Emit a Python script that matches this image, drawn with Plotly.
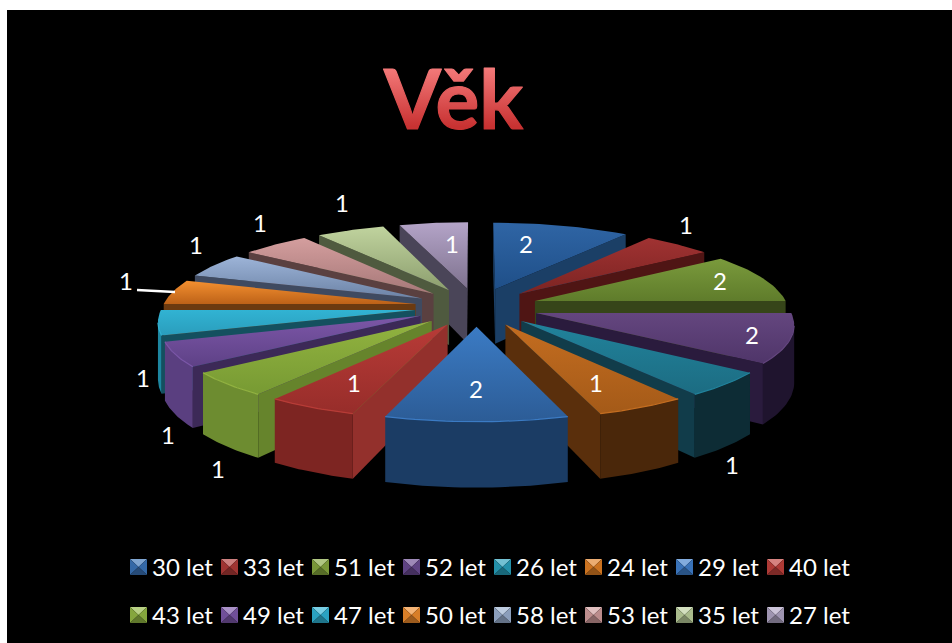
import math
import plotly.graph_objects as go

CATEGORIES = ["30 let","33 let","51 let","52 let","26 let","24 let","29 let","40 let",
              "43 let","49 let","47 let","50 let","58 let","53 let","35 let","27 let"]
VALUES = [2,1,2,2,1,1,2,1,1,1,1,1,1,1,1,1]
TOP_LIGHT = ["#2f65a5","#a03232","#7a9a3c","#64467f","#21839c","#c46d20","#3b7bc4","#b83b37",
             "#92b340","#7c57a8","#31b3d3","#f49030","#9db4d8","#d49e9e","#c0d39e","#b4a4c8"]
TOP_DARK = ["#1f4f88","#7c2422","#5f7c2b","#4f3569","#1c6c82","#a45a18","#2c5c96","#972d2a",
            "#779a33","#5e4186","#2a9dbc","#bd6218","#6c83a6","#a67878","#8c9e6e","#7e728e"]
WALL = ["#1b3f66","#4f1514","#364519","#2a1b3d","#113c4a","#5a2f0c","#1d3e67","#93302c",
        "#66842c","#3c2957","#14505f","#6b3a10","#3f4a60","#5a4040","#4f5a3f","#4a4558"]
ARC = ["#1b3a60","#4a1312","#2f3c16","#1f142e","#0d2c35","#4a270a","#1b3c64","#7d2522",
       "#6d8c30","#5a3f80","#1d86a0","#8a4a12","#4d5c78","#7a5a5a","#66754f","#5a5068"]
SWATCH = ["#3a74b8","#b03a38","#86a83e","#6a4a92","#27a0bc","#e07f24","#3f7fcc","#c0403c",
          "#94b844","#7c58aa","#2fb4d6","#f08c2c","#9ab0d0","#d09c9c","#bcd09c","#b0a4c4"]
VALUE_LABEL_X = [526,686,720,752,732,596,476,354,218,168,143,126,196,260,342,452]
VALUE_LABEL_Y = [247,228,284,338,468,386,392,386,472,438,381,284,248,226,206,247]

CX, CY, R0 = 476.5, 307, 253
TILT, PERSP, EXPLODE, DEPTH = 0.31, 0.12, 0.245, 56
VIEW_Y = -1 / PERSP


def project(x, y):
    s = 1 / (1 + PERSP * y)
    return CX + R0 * x * s, CY - R0 * TILT * y * s, DEPTH * s


def poly(points, **kw):
    xs = [p[0] for p in points] + [points[0][0]]
    ys = [p[1] for p in points] + [points[0][1]]
    return go.Scatter(x=xs, y=ys, mode="lines", fill="toself", line=dict(width=0),
                      hoverinfo="skip", showlegend=False, **kw)


def wall(a, b):
    return [(a[0], a[1]), (b[0], b[1]), (b[0], b[1] + b[2]), (a[0], a[1] + a[2])]


total = sum(VALUES)
slices = []
cum = 0
for i, v in enumerate(VALUES):
    a0 = cum / total * 2 * math.pi
    cum += v
    slices.append((i, a0, cum / total * 2 * math.pi))

fig = go.Figure()

for i, a0, a1 in sorted(slices, key=lambda s: -math.cos((s[1] + s[2]) / 2)):
    mid = (a0 + a1) / 2
    ox, oy = EXPLODE * math.sin(mid), EXPLODE * math.cos(mid)
    n = 24
    angs = [a0 + (a1 - a0) * k / n for k in range(n + 1)]
    arc3 = [(ox + math.sin(a), oy + math.cos(a)) for a in angs]
    apex = project(ox, oy)
    arc = [project(*p) for p in arc3]
    top = [(apex[0], apex[1])] + [(p[0], p[1]) for p in arc]
    vx, vy = -ox, VIEW_Y - oy
    if -math.cos(a0) * vx + math.sin(a0) * vy > 0:
        fig.add_trace(poly(wall(apex, arc[0]), fillcolor=WALL[i], name=CATEGORIES[i]))
    if math.cos(a1) * vx - math.sin(a1) * vy > 0:
        fig.add_trace(poly(wall(apex, arc[-1]), fillcolor=WALL[i], name=CATEGORIES[i]))
    vis = [p for p, a, w in zip(arc, angs, arc3)
           if math.sin(a) * (0 - w[0]) + math.cos(a) * (VIEW_Y - w[1]) > 0]
    if len(vis) > 1:
        fig.add_trace(poly([(p[0], p[1]) for p in vis] +
                           [(p[0], p[1] + p[2]) for p in reversed(vis)],
                           fillcolor=ARC[i], name=CATEGORIES[i]))
    fig.add_trace(poly(top, name=CATEGORIES[i], fillgradient=dict(
        type="vertical",
        colorscale=[[0, TOP_DARK[i]], [1, TOP_LIGHT[i]]])))
    if len(vis) > 1:
        fig.add_trace(go.Scatter(x=[p[0] for p in vis], y=[p[1] for p in vis], mode="lines",
                                 line=dict(color=TOP_LIGHT[i], width=1.2),
                                 hoverinfo="skip", showlegend=False))

fig.add_trace(go.Scatter(x=[137, 175], y=[290, 292], mode="lines",
                         line=dict(color="white", width=2.5), hoverinfo="skip", showlegend=False))
fig.add_trace(go.Scatter(x=VALUE_LABEL_X, y=VALUE_LABEL_Y, mode="text",
                         text=[str(v) for v in VALUES],
                         textfont=dict(family="Lato", size=24, color="white"),
                         hoverinfo="skip", showlegend=False))


def shade(hex_col, f):
    r, g, b = [int(hex_col[j:j + 2], 16) for j in (1, 3, 5)]
    if f >= 0:
        r, g, b = [c + (255 - c) * f for c in (r, g, b)]
    else:
        r, g, b = [c * (1 + f) for c in (r, g, b)]
    return f"rgb({r:.0f},{g:.0f},{b:.0f})"


shapes = [dict(type="rect", x0=7, x1=952, y0=10, y1=643, xref="x", yref="y",
               fillcolor="black", line_width=0, layer="below")]
annotations = [dict(text="<b>Věk</b>", x=453, y=97, xref="x", yref="y", showarrow=False,
                    font=dict(family="Lato", size=82, color="#e04848"))]
for k, cat in enumerate(CATEGORIES):
    col, row = k % 8, k // 8
    x0 = 130 + 91 * col
    yc = 567 + 48 * row
    x1, y0, y1 = x0 + 17, yc - 8, yc + 8
    mx, my = (x0 + x1) / 2, yc
    faces = [(f"M{x0},{y0}L{x1},{y0}L{mx},{my}Z", shade(SWATCH[k], 0.35)),
             (f"M{x0},{y0}L{x0},{y1}L{mx},{my}Z", shade(SWATCH[k], -0.1)),
             (f"M{x1},{y0}L{x1},{y1}L{mx},{my}Z", shade(SWATCH[k], -0.1)),
             (f"M{x0},{y1}L{x1},{y1}L{mx},{my}Z", shade(SWATCH[k], -0.35))]
    for path, fc in faces:
        shapes.append(dict(type="path", path=path, xref="x", yref="y",
                           fillcolor=fc, line_width=0, layer="above"))
    annotations.append(dict(text=cat, x=x0 + 20, y=yc - 1, xref="x", yref="y", showarrow=False,
                            xanchor="left", font=dict(family="Lato", size=24, color="white")))

fig.update_layout(
    width=952, height=643, margin=dict(l=0, r=0, t=0, b=0),
    paper_bgcolor="white", plot_bgcolor="white", showlegend=False,
    xaxis=dict(range=[0, 952], visible=False, fixedrange=True),
    yaxis=dict(range=[643, 0], visible=False, fixedrange=True),
    shapes=shapes, annotations=annotations,
)
POST = """
document.body.style.margin='0';document.body.style.overflow='hidden';
var svg=document.querySelector('.main-svg'),NS='http://www.w3.org/2000/svg';
var g=document.createElementNS(NS,'linearGradient');g.setAttribute('id','titlegrad');
g.setAttribute('x1','0');g.setAttribute('y1','0');g.setAttribute('x2','0');g.setAttribute('y2','1');
[['0.2','#f47a7a'],['0.8','#c83232']].forEach(function(c){var s=document.createElementNS(NS,'stop');
s.setAttribute('offset',c[0]);s.setAttribute('stop-color',c[1]);g.appendChild(s);});
var d=svg.querySelector('defs');d.appendChild(g);
document.querySelectorAll('.annotation-text').forEach(function(t){
if(t.textContent==='Věk'){t.style.fill='url(#titlegrad)';t.style.stroke='url(#titlegrad)';t.style.strokeWidth='1.2px';t.style.strokeLinejoin='round';}});
"""
fig.write_html("out.html", config=dict(displayModeBar=False), post_script=POST)
